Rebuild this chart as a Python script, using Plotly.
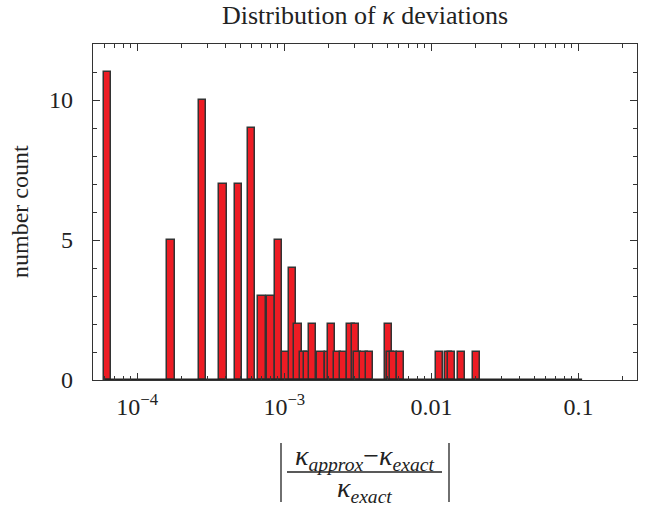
import math
import plotly.graph_objects as go

# ---- data ----
deviation = [6.30e-5, 1.698e-4, 2.766e-4, 3.834e-4, 4.902e-4, 5.970e-4, 7.038e-4,
             8.106e-4, 9.174e-4, 1.0242e-3, 1.131e-3, 1.2378e-3, 1.3446e-3, 1.4514e-3,
             1.5582e-3, 1.7718e-3, 1.9854e-3, 2.0922e-3, 2.3058e-3, 2.5194e-3,
             2.8398e-3, 3.0534e-3, 3.1602e-3, 3.4806e-3, 3.801e-3, 5.0826e-3,
             5.2962e-3, 5.5098e-3, 6.1506e-3, 1.1384e-2, 1.3093e-2, 1.3627e-2,
             1.6083e-2, 2.0248e-2]
counts = [11, 5, 10, 7, 7, 9, 3, 3, 5, 1, 4, 2, 1, 1, 2, 1, 1, 2, 1, 1,
          2, 2, 1, 1, 1, 2, 1, 1, 1, 1, 1, 1, 1, 1]
hist_first = 6.30e-5      # first bin centre
hist_last = 0.1           # last (empty) bin centre
x_tickvals = [1e-4, 1e-3, 1e-2, 1e-1]
x_ticktext = ["10<sup>−4</sup>", "10<sup>−3</sup>", "0.01", "0.1"]
y_tickvals = [0, 5, 10]
x_range = [5e-5, 0.25]
y_range = [0, 12]

# ---- style ----
FONT = "Liberation Serif, serif"
half = 0.0248  # half bar width in decades (constant on the log axis)
lo = [d * 10 ** (-half) for d in deviation]
hi = [d * 10 ** (half) for d in deviation]
mid = [(a + b) / 2 for a, b in zip(lo, hi)]
wid = [b - a for a, b in zip(lo, hi)]

minor_x = [m * 10 ** e for e in range(-5, 0) for m in range(2, 10)
           if x_range[0] < m * 10 ** e < x_range[1]]

fig = go.Figure()
fig.add_trace(go.Scatter(
    x=[hist_first * 10 ** (-half), hist_last * 10 ** half], y=[0, 0],
    mode="lines", line=dict(color="#222222", width=3), hoverinfo="skip",
    showlegend=False, cliponaxis=False))
fig.add_trace(go.Bar(
    x=mid, y=counts, width=wid,
    marker=dict(color="#ED1C24", line=dict(color="#333333", width=1.5)),
    showlegend=False))

axis_common = dict(showline=True, linecolor="#333333", linewidth=1.3, mirror="allticks",
                   ticks="inside", ticklen=7, tickwidth=1.2, tickcolor="#333333",
                   showgrid=False, zeroline=False, automargin=False,
                   tickfont=dict(family=FONT, size=24, color="#222222"))

fig.update_xaxes(type="log", range=[math.log10(x_range[0]), math.log10(x_range[1])],
                 tickmode="array", tickvals=x_tickvals, ticktext=x_ticktext,
                 ticklabelstandoff=5,
                 minor=dict(tickmode="array", tickvals=minor_x, ticks="inside",
                            ticklen=4, tickwidth=1.2, tickcolor="#333333", showgrid=False),
                 **axis_common)
fig.update_yaxes(range=y_range, tickmode="array", tickvals=y_tickvals,
                 ticklabelstandoff=14,
                 minor=dict(dtick=1, ticks="inside", ticklen=4, tickwidth=1.2,
                            tickcolor="#333333", showgrid=False),
                 **axis_common)

# target plot box on the page: x 93..637, y 44..380
L, R, T, B = 93, 660 - 637, 44, 507 - 380
PW, PH = 660 - L - R, 507 - T - B
def px(xp):
    return (xp - L) / PW
def py(yp):
    return (T + PH - yp) / PH

annotations = [
    dict(text="number count", textangle=-90, x=px(20), y=py(212), xref="paper", yref="paper",
         xanchor="center", yanchor="middle",
         showarrow=False, font=dict(family=FONT, size=24, color="#222222")),
    dict(text="<i>κ</i><sub><i>approx</i></sub>−<i>κ</i><sub><i>exact</i></sub>",
         x=px(364), y=py(457), xref="paper", yref="paper", showarrow=False,
         xanchor="center", yanchor="middle",
         font=dict(family=FONT, size=28, color="#222222")),
    dict(text="<i>κ</i><sub><i>exact</i></sub>",
         x=px(364), y=py(489), xref="paper", yref="paper", showarrow=False,
         xanchor="center", yanchor="middle",
         font=dict(family=FONT, size=28, color="#222222")),
]
shapes = [
    dict(type="line", xref="paper", yref="paper", x0=px(287), x1=px(442),
         y0=py(472), y1=py(472), line=dict(color="#222222", width=1.3)),
    dict(type="line", xref="paper", yref="paper", x0=px(281), x1=px(281),
         y0=py(443), y1=py(502), line=dict(color="#222222", width=1.3)),
    dict(type="line", xref="paper", yref="paper", x0=px(449), x1=px(449),
         y0=py(443), y1=py(502), line=dict(color="#222222", width=1.3)),
]

fig.update_layout(
    width=660, height=507,
    margin=dict(l=L, r=R, t=T, b=B, autoexpand=False),
    paper_bgcolor="white", plot_bgcolor="white",
    title=dict(text="Distribution of <i>κ</i> deviations", x=px(365), xref="paper",
               y=1 - 15 / 507, yref="container", yanchor="middle", xanchor="center",
               font=dict(family=FONT, size=26, color="#222222")),
    annotations=annotations, shapes=shapes,
    bargap=0,
)

fig.write_html("out.html", config={"displayModeBar": False},
               post_script="document.body.style.margin='0';")
